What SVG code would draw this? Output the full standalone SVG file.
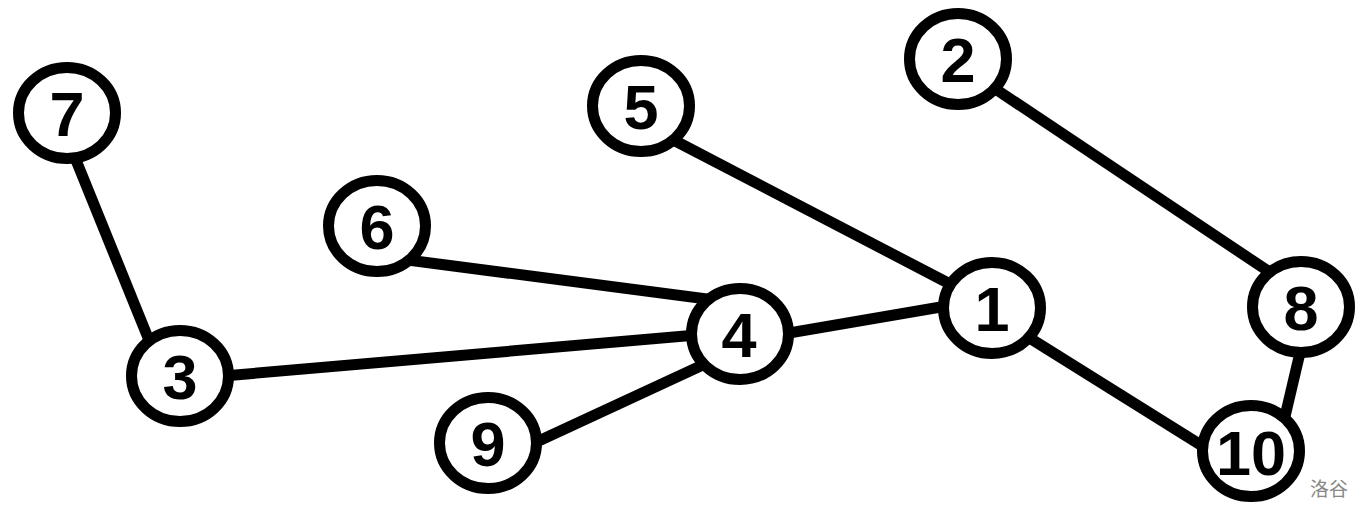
<svg xmlns="http://www.w3.org/2000/svg" width="1371" height="519" viewBox="0 0 1371 519">
<style>
.edge{stroke:#000;stroke-width:11;stroke-linecap:butt;fill:none}
.node ellipse{fill:#fff;stroke:#000;stroke-width:11}
.node text{font-family:"Liberation Sans",Arial,sans-serif;font-weight:bold;font-size:63px;text-anchor:middle;fill:#000}
.wm{font-family:"Noto Sans CJK SC",sans-serif;font-size:19px;fill:#888}
</style>
<rect width="1371" height="519" fill="#fff"/>
<g id="edges">
<line class="edge" x1="65" y1="133" x2="155" y2="355"/>
<line class="edge" x1="400" y1="259" x2="730" y2="302"/>
<line class="edge" x1="200" y1="378" x2="720" y2="333"/>
<line class="edge" x1="530" y1="445" x2="720" y2="357"/>
<line class="edge" x1="760" y1="338" x2="970" y2="302"/>
<line class="edge" x1="660" y1="133" x2="975" y2="297"/>
<line class="edge" x1="985" y1="82" x2="1280" y2="279"/>
<line class="edge" x1="1303" y1="340" x2="1283" y2="425"/>
<line class="edge" x1="1020" y1="332" x2="1220" y2="457"/>
</g>
<g id="n7" class="node"><ellipse cx="67" cy="113" rx="48.5" ry="45.5"/><text x="67" y="136">7</text></g>
<g id="n2" class="node"><ellipse cx="958" cy="59" rx="48.5" ry="45.5"/><text x="958" y="82">2</text></g>
<g id="n5" class="node"><ellipse cx="641" cy="106" rx="48.5" ry="45.5"/><text x="641" y="129">5</text></g>
<g id="n6" class="node"><ellipse cx="377" cy="226" rx="48.5" ry="45.5"/><text x="377" y="249">6</text></g>
<g id="n3" class="node"><ellipse cx="180" cy="376" rx="48.5" ry="45.5"/><text x="180" y="399">3</text></g>
<g id="n4" class="node"><ellipse cx="740" cy="334" rx="48.5" ry="45.5"/><text x="739" y="357">4</text></g>
<g id="n9" class="node"><ellipse cx="488" cy="443" rx="48.5" ry="45.5"/><text x="488" y="466">9</text></g>
<g id="n1" class="node"><ellipse cx="992" cy="308" rx="48.5" ry="45.5"/><text x="992" y="331">1</text></g>
<g id="n8" class="node"><ellipse cx="1301" cy="307" rx="48.5" ry="45.5"/><text x="1301" y="330">8</text></g>
<g id="n10" class="node"><ellipse cx="1251" cy="451" rx="48.5" ry="45.5"/><text x="1251" y="475">10</text></g>
<text class="wm" x="1310" y="496">洛谷</text>
</svg>
